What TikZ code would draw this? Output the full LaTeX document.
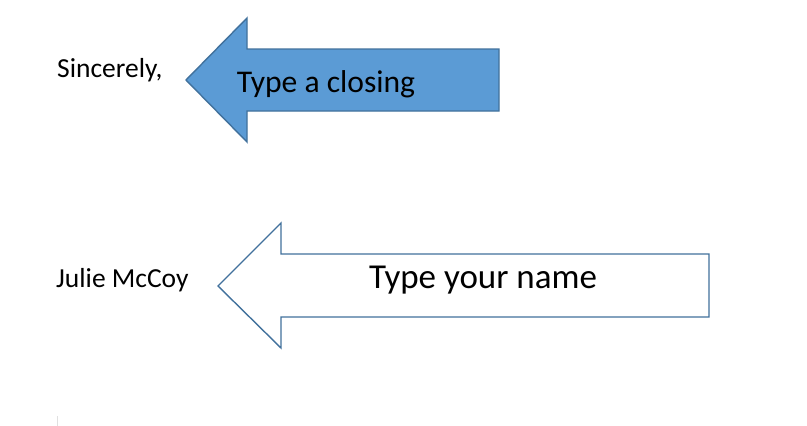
\documentclass[tikz,border=0pt]{standalone}
\usepackage{fontspec}
\setmainfont{Carlito}
\usepackage{xcolor}
\definecolor{arrowfill}{HTML}{5B9BD5}
\definecolor{arrowline}{HTML}{41719C}

\begin{document}
\begin{tikzpicture}[x=1pt, y=-1pt,
  bigtext/.style={inner sep=0pt, anchor=base, font=\fontsize{31.6}{36}\selectfont},
  sidetext/.style={inner sep=0pt, anchor=base west, font=\fontsize{27.5}{32}\selectfont},
  arrowshape/.style={draw=arrowline, line width=1.4pt, line join=miter}]

\useasboundingbox[fill=white] (0,0) rectangle (807,426);

%closing arrow
\draw[arrowshape, fill=arrowfill] (186,80)--(247,18)--(247,49)--(499,49)--(499,111)--(247,111)--(247,142)--cycle;

%name arrow
\draw[arrowshape, fill=white] (218,286)--(281,223)--(281,254)--(709,254)--(709,317)--(281,317)--(281,348)--cycle;

%texts
\node[sidetext] (closing) at (57,77) {Sincerely,};
\node[bigtext] (closinghint) at (326,92) {Type a closing};
\node[sidetext] (name) at (56,287) {Julie McCoy};
\node[bigtext, font=\fontsize{35}{40}\selectfont] (namehint) at (483,288) {Type your name};

%cursor mark
\draw[black!12, line width=0.8pt] (57,416)--(57,426);

\end{tikzpicture}
\end{document}
